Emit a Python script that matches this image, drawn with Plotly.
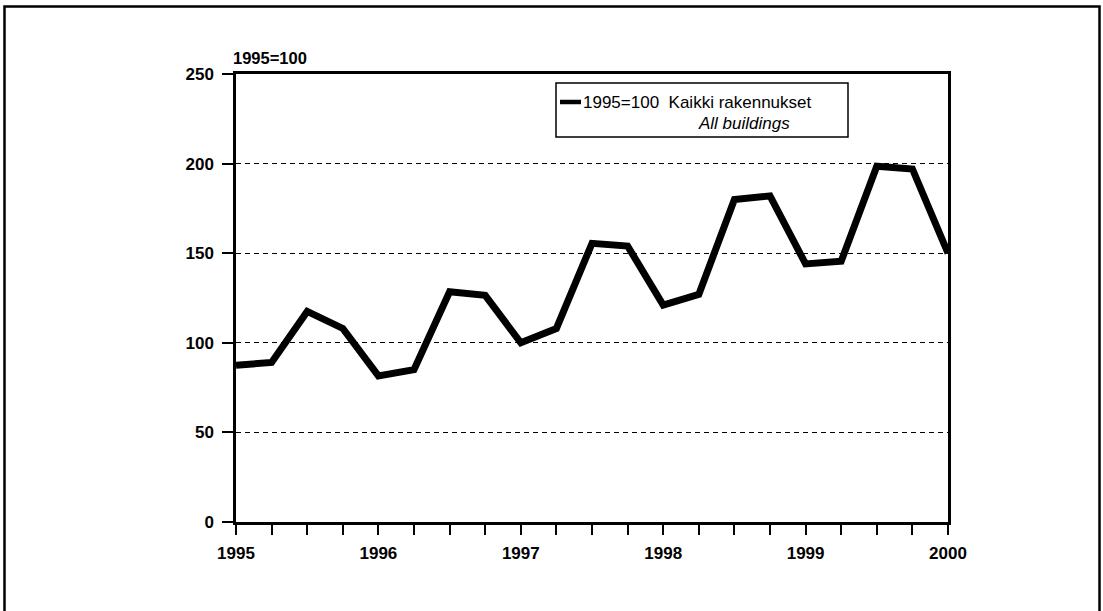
import plotly.graph_objects as go

# Quarterly index, 1995=100, all buildings
years = [1995, 1995, 1995, 1995, 1996, 1996, 1996, 1996, 1997, 1997, 1997, 1997,
         1998, 1998, 1998, 1998, 1999, 1999, 1999, 1999, 2000]
quarters = [1, 2, 3, 4, 1, 2, 3, 4, 1, 2, 3, 4, 1, 2, 3, 4, 1, 2, 3, 4, 1]
values = [87.5, 89, 117.5, 108, 81.5, 85, 128.5, 126.5, 100, 108, 155.5, 154,
          121, 127, 180, 182, 144, 145.5, 198.5, 197, 150]
year_ticks = [1995, 1996, 1997, 1998, 1999, 2000]
y_ticks = [0, 50, 100, 150, 200, 250]
series_name = "1995=100\u00a0\u00a0Kaikki rakennukset"
series_name_en = "All buildings"
unit_label = "1995=100"

x = [y + (q - 1) / 4 for y, q in zip(years, quarters)]

W, H = 1103, 611
L, R, T, B = 236, 948, 74, 522          # plot area in screen coords
pw, ph = R - L, B - T

def px(xp):
    return (xp - L) / pw

def py(yp):
    return (B - yp) / ph

FONT = "Liberation Sans, Arial, sans-serif"

fig = go.Figure()
fig.add_trace(go.Scatter(
    x=x, y=values, mode="lines",
    line=dict(color="black", width=7),
    name=series_name, showlegend=False,
))

fig.update_layout(
    width=W, height=H,
    margin=dict(l=L, r=W - R, t=T, b=H - B, pad=0),
    paper_bgcolor="white", plot_bgcolor="white",
    font=dict(family=FONT, color="black", size=16),
    xaxis=dict(range=[1995, 2000], tickmode="array", tickvals=year_ticks,
               ticktext=[str(v) for v in year_ticks],
               ticks="outside", ticklen=10, tickwidth=2, tickcolor="black",
               ticklabelstandoff=4,
               minor=dict(dtick=0.25, ticks="outside", ticklen=10, tickwidth=2,
                          tickcolor="black", showgrid=False),
               showgrid=False, zeroline=False,
               showline=True, linecolor="black", linewidth=2.5, mirror=True,
               tickfont=dict(size=17, family=FONT, weight="bold")),
    yaxis=dict(range=[0, 250], tickmode="array", tickvals=y_ticks,
               ticks="outside", ticklen=11, tickwidth=1.5, tickcolor="black",
               ticklabelstandoff=5,
               showgrid=True, gridcolor="black", gridwidth=1, griddash="5px,4px",
               zeroline=False,
               showline=True, linecolor="black", linewidth=2.5, mirror=True,
               tickfont=dict(size=17, family=FONT, weight="bold")),
)

fig.add_annotation(text="<b>" + unit_label + "</b>", xref="paper", yref="paper",
                   x=px(231), y=py(58), xanchor="left", yanchor="middle",
                   showarrow=False, font=dict(size=16.5, family=FONT))

# legend box (drawn manually to match compact symbol)
fig.add_shape(type="rect", xref="paper", yref="paper",
              x0=px(556), x1=px(848), y0=py(137), y1=py(83),
              line=dict(color="black", width=1.5), fillcolor="white", layer="above")
fig.add_shape(type="line", xref="paper", yref="paper",
              x0=px(560), x1=px(581), y0=py(102), y1=py(102),
              line=dict(color="black", width=4.5), layer="above")
fig.add_annotation(text=series_name, xref="paper", yref="paper",
                   x=px(581), y=py(102), xanchor="left", yanchor="middle",
                   showarrow=False, font=dict(size=17, family=FONT))
fig.add_annotation(text="<i>" + series_name_en + "</i>", xref="paper", yref="paper",
                   x=px(696), y=py(123), xanchor="left", yanchor="middle",
                   showarrow=False, font=dict(size=17, family=FONT))

# outer frame (left, top, right edges; bottom runs off the page)
fig.add_shape(type="rect", xref="paper", yref="paper",
              x0=px(4.5), x1=px(1099.5), y0=py(640), y1=py(6.5),
              line=dict(color="black", width=2.5), layer="below")

fig.write_html("out.html",
               config={"displayModeBar": False},
               post_script="document.body.style.margin='0px';")
